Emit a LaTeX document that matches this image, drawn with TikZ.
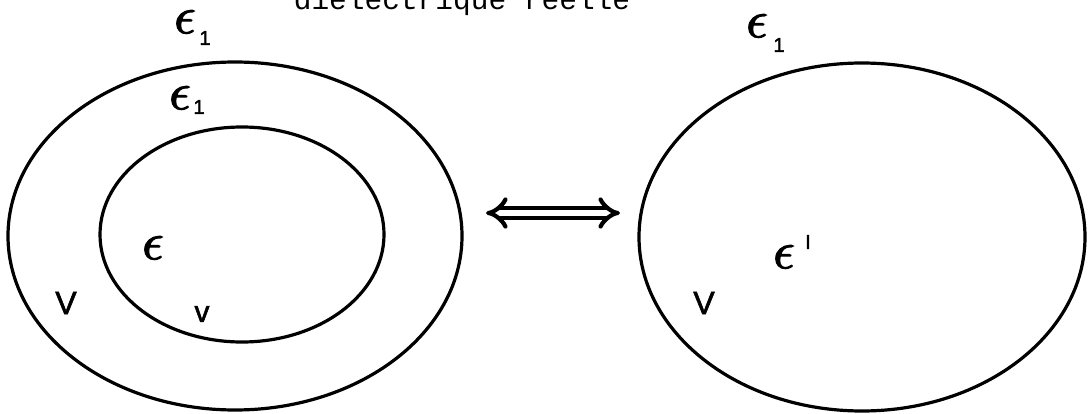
\documentclass[tikz,border=0pt]{standalone}
\usepackage{fontspec}
\setsansfont{Liberation Sans}
\setmonofont{Liberation Mono}
\newfontfamily\lmm{Latin Modern Math}[FakeBold=2.2]
\newfontfamily\vsans{Liberation Sans}[FakeBold=1.8]
\usetikzlibrary{shapes.geometric,arrows.meta}
\newcommand{\myeps}{{\lmm 𝜖}}
\tikzset{
  ring/.style={draw, ellipse, line width=3.2pt, inner sep=0pt},
  eps/.style={inner sep=0pt, font=\fontsize{53}{55}\selectfont},
  idx/.style={inner sep=0pt, font=\fontsize{20}{22}\selectfont\vsans},
  vlab/.style={inner sep=0pt, font=\fontsize{32}{34}\selectfont\vsans},
  title/.style={inner sep=0pt, anchor=base, font=\fontsize{29.5}{32}\selectfont\ttfamily},
  equiv/.style={double, double distance=6pt, line width=4.2pt, {Implies[scale=1.35]}-{Implies[scale=1.35]}}
}
\begin{document}
\begin{tikzpicture}[x=1pt,y=-1pt]
\useasboundingbox (0,0) rectangle (1091,414);
\clip (0,0) rectangle (1091,414);
\node[title] (t) at (462,10) {diélectrique réelle};
\node[ring, minimum width=454pt, minimum height=348pt] (outer) at (235,236) {};
\node[ring, minimum width=284pt, minimum height=215pt] (inner) at (242,234.5) {};
\node[ring, minimum width=446pt, minimum height=348pt] (right) at (862,237) {};
\coordinate (al) at (486,213);
\coordinate (ar) at (620,213);
\draw[equiv] (al) -- (ar);
% left outer region label
\node[eps] (e1a) at (185,22) {\myeps};
\node[idx] (s1a) at (205,38) {1};
% inner ring label
\node[eps] (e1b) at (180,98) {\myeps};
\node[idx] (s1b) at (199,107) {1};
\node[eps] (e) at (153,248) {\myeps};
\node[vlab] (V1) at (66,303) {V};
\node[vlab, font=\fontsize{30}{32}\selectfont\vsans] (v1) at (202,314) {v};
% right side
\node[eps] (e1c) at (757,26) {\myeps};
\node[idx] (s1c) at (779,45) {1};
\node[eps] (ep) at (784,257) {\myeps};
\node[idx] (sp) at (808,242) {I};
\node[vlab] (V2) at (704,303) {V};
\end{tikzpicture}
\end{document}
